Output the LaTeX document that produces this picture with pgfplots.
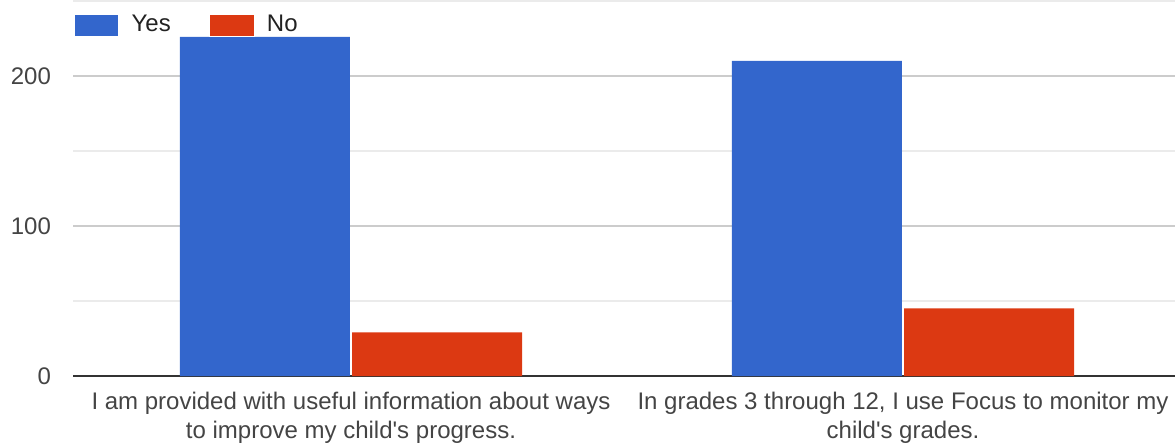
\documentclass[border=0pt]{standalone}
\usepackage{pgfplots}
\pgfplotsset{compat=1.18}
\usepackage{fontspec}
\setmainfont{Liberation Sans}

\definecolor{gblue}{HTML}{3366CC}
\definecolor{gred}{HTML}{DC3912}
\definecolor{majgrid}{HTML}{CCCCCC}
\definecolor{mingrid}{HTML}{EBEBEB}
\definecolor{ticktext}{HTML}{444444}
\definecolor{legtext}{HTML}{222222}

\begin{document}
\begin{tikzpicture}
\begin{axis}[
    name=ax,
    scale only axis,
    width=551pt, height=187.5pt,
    ybar,
    bar width=0.308,
    xmin=-0.5036, xmax=1.4928,
    ymin=0, ymax=250,
    xtick={0,1},
    xticklabels={{I am provided with useful information about ways\\to improve my child\textquotesingle s progress.},
                 {In grades 3 through 12, I use Focus to monitor my\\child\textquotesingle s grades.}},
    ytick={0,100,200},
    minor ytick={50,150,250},
    ymajorgrids, yminorgrids,
    major grid style={majgrid, line width=0.6pt},
    minor grid style={mingrid, line width=0.6pt},
    axis x line*=bottom,
    axis y line*=left,
    x axis line style={draw=black!80, line width=1pt, -},
    y axis line style={draw=none},
    major tick length=0pt, minor tick length=0pt,
    tick style={draw=none},
    /pgf/number format/assume math mode=true,
    ticklabel style={font=\fontsize{12}{14.5}\selectfont, text=ticktext},
    yticklabel style={anchor=east, xshift=-7.5pt},
    xticklabel style={align=center, yshift=-4.5pt},
    legend style={
        at={(0,1)}, anchor=north west,
        xshift=-3pt, yshift=-3pt,
        draw=none, fill=none,
        font=\fontsize{12}{14}\selectfont, text=legtext,
        legend columns=2,
        /tikz/every odd column/.append style={column sep=4pt},
        /tikz/every even column/.append style={column sep=17pt},
        nodes={inner sep=2pt},
    },
    legend image code/.code={\fill[#1, draw=white, line width=0.6pt] (0pt,-5.5pt) rectangle (22.5pt,5.5pt);},
    clip=false,
]
\addplot[fill=gblue, draw=none, bar shift=-0.156] coordinates {(0,226) (1,210)};
\addplot[fill=gred, draw=none, bar shift=0.156] coordinates {(0,29) (1,45)};
\legend{Yes, No}
\end{axis}
\pgfresetboundingbox
\path ([xshift=-36.5pt, yshift=-36pt]ax.south west) rectangle ([yshift=0.5pt]ax.north east);
\end{tikzpicture}
\end{document}
